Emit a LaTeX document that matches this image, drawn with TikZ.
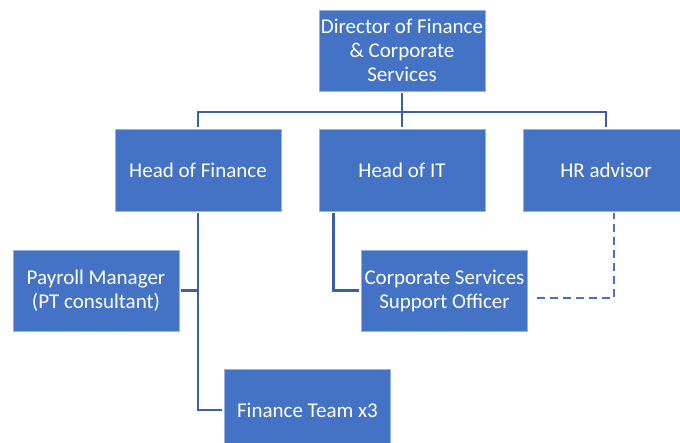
\documentclass[tikz,border=0pt]{standalone}
\usepackage{fontspec}
\setmainfont{Carlito}
\usepackage{tikz}
\usetikzlibrary{calc}
\definecolor{boxblue}{RGB}{68,114,196}
\definecolor{lineblue}{RGB}{58,96,170}
\definecolor{edgeblue}{RGB}{150,178,226}

\begin{document}
\begin{tikzpicture}[
  x=1pt, y=-1pt,
  post/.style={rectangle, fill=boxblue, draw=edgeblue, line width=0.8pt, text=white, inner sep=0pt,
    minimum width=166pt, minimum height=82pt, align=center, font=\fontsize{21}{24}\selectfont},
  tie/.style={lineblue, line width=2.4pt, shorten <=2pt, shorten >=2pt},
  dotted tie/.style={boxblue, line width=2pt, dash pattern=on 8pt off 5pt},
]
  \useasboundingbox (0,0) rectangle (680,443);
  \clip (0,0) rectangle (680,443);

  % Top
  \node[post, minimum height=81pt] (dir) at (402,50.5) {Director of Finance\\ \& Corporate\\ Services};

  % Heads
  \node[post] (headfin) at (198,170) {Head of Finance};
  \node[post] (headit) at (402,170) {Head of IT};
  \node[post] (hr) at (606,170) {HR advisor};

  % Staff
  \node[post, minimum height=81pt] (payroll) at (96,290.5) {Payroll Manager\\ (PT consultant)};
  \node[post, minimum height=81pt] (csso) at (444.5,290.5) {Corporate Services\\ Support Officer};
  \node[post] (finteam) at (307.5,410) {Finance Team x3};

  % Links
  \coordinate (bus) at (402,112);
  \draw[tie, shorten >=0pt] (dir.south) -- (bus);
  \draw[tie] (headfin.north) |- (bus) -| (hr.north);
  \draw[tie, shorten <=0pt] (bus) -- (headit.north);
  \draw[tie] (headfin.south) |- (finteam.west);
  \draw[tie, shorten >=0pt] (payroll.east) -- (payroll.east -| headfin.south);
  \draw[tie] ($(headit.south west)+(15,0)$) |- (csso.west);
  \draw[dotted tie, shorten <=9pt, shorten >=2pt] ($(csso.east)+(0,7.5)$) -| ($(hr.south)+(8,0)$);
\end{tikzpicture}
\end{document}
